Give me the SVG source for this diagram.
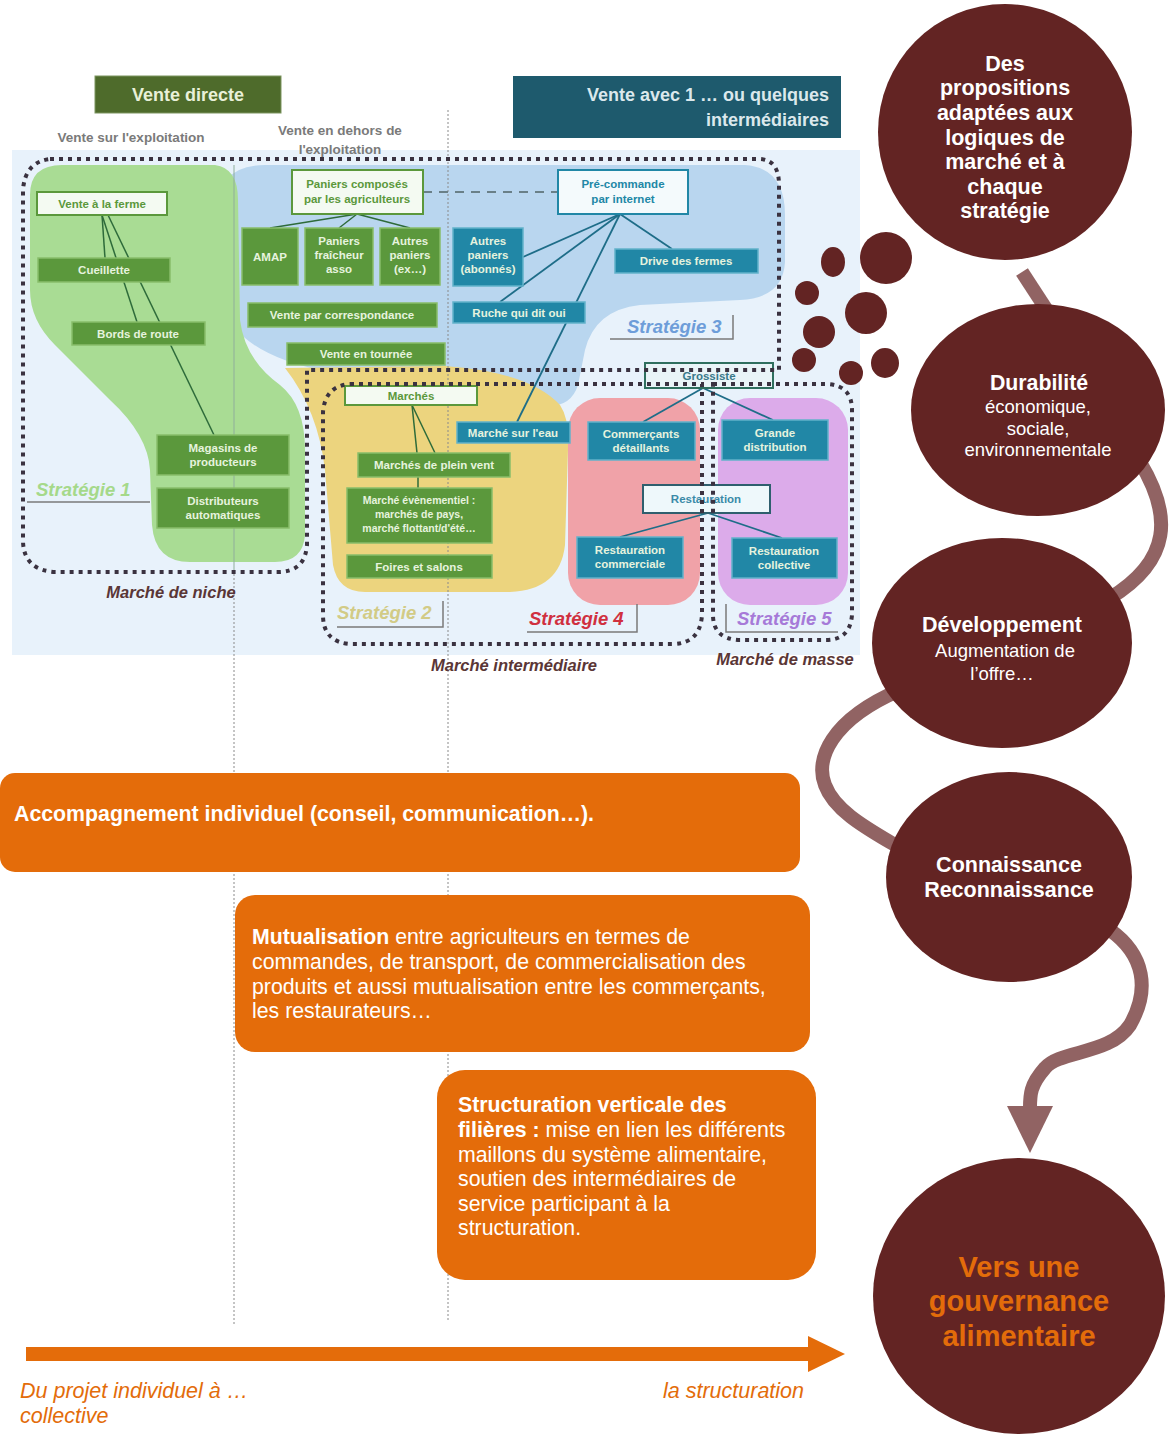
<svg xmlns="http://www.w3.org/2000/svg" width="1172" height="1438" viewBox="0 0 1172 1438">
<defs>
<style>
text{font-family:"Liberation Sans",Arial,sans-serif}
.gb{fill:#5b983c;stroke:#88bd6a;stroke-width:1.5}
.tb{fill:#2187a6;stroke:#62b2ca;stroke-width:1.5}
.wb{fill:#f4faf2;stroke:#5b983c;stroke-width:2}
.bt{fill:#e6f3de;font-size:11.5px;font-weight:bold;text-anchor:middle}
.gt{fill:#5b983c;font-size:11.5px;font-weight:bold;text-anchor:middle}
.dot{fill:none;stroke:#3a3240;stroke-width:4;stroke-dasharray:4 5}
.ln{stroke:#2e6b3a;stroke-width:1.5;fill:none}
.tl{stroke:#1e6d88;stroke-width:1.8;fill:none}
.br{stroke:#7a7a7a;stroke-width:1.5;fill:none}
.vline{stroke:#8a8a8a;stroke-width:1;stroke-dasharray:2 2}
.strat{font-size:18.5px;font-weight:bold;font-style:italic}
.mk{font-size:16.5px;font-weight:bold;font-style:italic;fill:#5a3636;text-anchor:middle}
.sub{font-size:13.5px;font-weight:bold;fill:#7a7a7a;text-anchor:middle}
.ct{fill:#fff;text-anchor:middle}
.ob{fill:#e46c0a}
.owt{fill:#fff;font-size:21.3px}
.wave{fill:none;stroke:#916363;stroke-width:14}
.mar{fill:#632423}
</style>
</defs>
<rect x="0" y="0" width="1172" height="1438" fill="#fff"/>

<!-- upper market diagram -->
<g id="market-diagram">
  <rect x="12" y="150" width="848" height="505" fill="#e8f2fb"/>
  <path d="M265,165 L745,165 Q785,168 785,215 L785,262 Q783,298 740,300 L640,305 Q595,310 585,350 L578,385 Q570,410 540,405 L330,372 Q235,355 220,300 L216,215 Q216,165 265,165 Z" fill="#b9d6ef"/>
  <path d="M30,195 Q30,165 62,165 L215,165 Q238,168 238,200 L240,320 Q245,360 280,385 Q305,405 305,450 L305,535 Q303,562 275,562 L190,562 Q155,562 152,525 L150,470 Q148,435 110,400 L55,345 Q30,320 30,290 Z" fill="#a9dc94"/>
  <path d="M285,368 L445,366 Q530,372 560,405 Q570,420 568,450 L565,545 Q560,590 510,592 L365,592 Q338,592 333,565 L325,470 Q318,410 285,368 Z" fill="#ecd47e"/>
  <rect x="568" y="398" width="132" height="207" rx="32" fill="#f0a2a8"/>
  <rect x="718" y="398" width="130" height="207" rx="32" fill="#dcabea"/>
  <line x1="234" y1="165" x2="234" y2="570" stroke="#8fae9a" stroke-width="1"/>
</g>

<g id="vertical-guides">
  <line class="vline" x1="234" y1="570" x2="234" y2="1325"/>
  <line class="vline" x1="448" y1="110" x2="448" y2="1322"/>
</g>

<g id="headers">
  <g id="vente-directe">
    <rect x="95" y="76" width="186" height="37" fill="#4e6b2b" stroke="#7d9560" stroke-width="1"/>
    <text x="188" y="101" font-size="18" font-weight="bold" fill="#e8f0d8" text-anchor="middle">Vente directe</text>
  </g>
  <g id="vente-intermediaires">
    <rect x="513" y="76" width="328" height="62" fill="#1e5a6d"/>
    <text x="829" y="101" font-size="18" font-weight="bold" fill="#dbe8ec" text-anchor="end">Vente avec 1 … ou quelques</text>
    <text x="829" y="126" font-size="18" font-weight="bold" fill="#dbe8ec" text-anchor="end">intermédiaires</text>
  </g>
  <text class="sub" x="131" y="142">Vente sur l'exploitation</text>
  <text class="sub" x="340" y="135">Vente en dehors de</text>
  <text class="sub" x="340" y="154">l'exploitation</text>
</g>

<g id="diagram-connectors">
  <line class="ln" x1="102" y1="215" x2="105" y2="258"/>
  <line class="ln" x1="102" y1="215" x2="137" y2="322"/>
  <line class="ln" x1="108" y1="215" x2="214" y2="435"/>
  <line class="ln" x1="357" y1="214" x2="270" y2="228"/>
  <line class="ln" x1="357" y1="214" x2="339" y2="228"/>
  <line class="ln" x1="357" y1="214" x2="410" y2="228"/>
  <line x1="423" y1="192" x2="558" y2="192" stroke="#6a8088" stroke-width="2" stroke-dasharray="9 7"/>
  <line class="tl" x1="620" y1="214" x2="523" y2="257"/>
  <line class="tl" x1="620" y1="214" x2="500" y2="302"/>
  <line class="tl" x1="620" y1="214" x2="517" y2="422"/>
  <line class="tl" x1="620" y1="214" x2="672" y2="249"/>
  <line class="ln" x1="412" y1="405" x2="417" y2="453"/>
  <line class="ln" x1="412" y1="405" x2="435" y2="453"/>
  <line class="ln" x1="418" y1="477" x2="418" y2="488"/>
  <line class="tl" x1="703" y1="388" x2="643" y2="422"/>
  <line class="tl" x1="703" y1="388" x2="773" y2="420"/>
  <line class="tl" x1="708" y1="513" x2="620" y2="537"/>
  <line class="tl" x1="708" y1="513" x2="782" y2="538"/>
</g>

<g id="n-vente-ferme"><rect class="wb" x="37" y="192" width="130" height="23"/><text class="gt" x="102" y="208">Vente à la ferme</text></g>
<g id="n-cueillette"><rect class="gb" x="38" y="258" width="132" height="24"/><text class="bt" x="104" y="274">Cueillette</text></g>
<g id="n-bords-route"><rect class="gb" x="72" y="322" width="133" height="23"/><text class="bt" x="138" y="338">Bords de route</text></g>
<g id="n-magasins"><rect class="gb" x="157" y="435" width="132" height="40"/><text class="bt" x="223" y="452">Magasins de</text><text class="bt" x="223" y="466">producteurs</text></g>
<g id="n-distributeurs"><rect class="gb" x="157" y="488" width="132" height="40"/><text class="bt" x="223" y="505">Distributeurs</text><text class="bt" x="223" y="519">automatiques</text></g>
<g id="n-paniers-composes"><rect class="wb" x="292" y="170" width="131" height="44"/><text class="gt" x="357" y="188">Paniers composés</text><text class="gt" x="357" y="203">par les agriculteurs</text></g>
<g id="n-amap"><rect class="gb" x="242" y="228" width="56" height="57"/><text class="bt" x="270" y="261">AMAP</text></g>
<g id="n-paniers-fraicheur"><rect class="gb" x="305" y="228" width="68" height="57"/><text class="bt" x="339" y="245">Paniers</text><text class="bt" x="339" y="259">fraîcheur</text><text class="bt" x="339" y="273">asso</text></g>
<g id="n-autres-paniers"><rect class="gb" x="380" y="228" width="60" height="57"/><text class="bt" x="410" y="245">Autres</text><text class="bt" x="410" y="259">paniers</text><text class="bt" x="410" y="273">(ex…)</text></g>
<g id="n-vente-correspondance"><rect class="gb" x="248" y="303" width="189" height="24"/><text class="bt" x="342" y="319">Vente par correspondance</text></g>
<g id="n-vente-tournee"><rect class="gb" x="287" y="343" width="158" height="22"/><text class="bt" x="366" y="358">Vente en tournée</text></g>
<g id="n-precommande"><rect fill="#f4fafc" stroke="#2187a6" stroke-width="2" x="558" y="170" width="130" height="44"/><text class="gt" style="fill:#2187a6" x="623" y="188">Pré-commande</text><text class="gt" style="fill:#2187a6" x="623" y="203">par internet</text></g>
<g id="n-autres-paniers-2"><rect class="tb" x="453" y="228" width="70" height="58"/><text class="bt" x="488" y="245">Autres</text><text class="bt" x="488" y="259">paniers</text><text class="bt" x="488" y="273">(abonnés)</text></g>
<g id="n-drive"><rect class="tb" x="615" y="249" width="143" height="24"/><text class="bt" x="686" y="265">Drive des fermes</text></g>
<g id="n-ruche"><rect class="tb" x="453" y="302" width="132" height="21"/><text class="bt" x="519" y="317">Ruche qui dit oui</text></g>
<g id="n-marches"><rect class="wb" x="345" y="386" width="132" height="19"/><text class="gt" x="411" y="400">Marchés</text></g>
<g id="n-marche-eau"><rect class="tb" x="457" y="422" width="113" height="21"/><text class="bt" x="513" y="437">Marché sur l'eau</text></g>
<g id="n-plein-vent"><rect class="gb" x="358" y="453" width="152" height="24"/><text class="bt" x="434" y="469">Marchés de plein vent</text></g>
<g id="n-evenementiels"><rect class="gb" x="347" y="488" width="145" height="55"/><text class="bt" x="419" y="504" style="font-size:10.5px">Marché évènementiel :</text><text class="bt" x="419" y="518" style="font-size:10.5px">marchés de pays,</text><text class="bt" x="419" y="532" style="font-size:10.5px">marché flottant/d'été…</text></g>
<g id="n-foires"><rect class="gb" x="347" y="555" width="145" height="23"/><text class="bt" x="419" y="571">Foires et salons</text></g>
<g id="n-grossiste"><rect fill="#e9f4f7" stroke="#2f6f5e" stroke-width="2" x="645" y="363" width="128" height="25"/><text class="gt" style="fill:#3a7a8a" x="709" y="380">Grossiste</text></g>
<g id="n-commercants"><rect class="tb" x="588" y="422" width="107" height="38"/><text class="bt" x="641" y="438">Commerçants</text><text class="bt" x="641" y="452">détaillants</text></g>
<g id="n-grande-distribution"><rect class="tb" x="722" y="420" width="106" height="40"/><text class="bt" x="775" y="437">Grande</text><text class="bt" x="775" y="451">distribution</text></g>
<g id="n-restauration"><rect fill="#eef8fb" stroke="#2f5f6e" stroke-width="2" x="643" y="485" width="127" height="28"/><text class="gt" style="fill:#3a8aa8" x="706" y="503">Restauration</text></g>
<g id="n-resto-commerciale"><rect class="tb" x="577" y="537" width="106" height="41"/><text class="bt" x="630" y="554">Restauration</text><text class="bt" x="630" y="568">commerciale</text></g>
<g id="n-resto-collective"><rect class="tb" x="732" y="538" width="105" height="40"/><text class="bt" x="784" y="555">Restauration</text><text class="bt" x="784" y="569">collective</text></g>

<g id="market-borders">
  <path class="dot" d="M50,159 L760,159 Q779,160 779,185 L779,370 L307,370 L307,545 Q305,572 278,572 L55,572 Q23,570 23,540 L23,190 Q25,162 50,159"/>
  <path class="dot" d="M350,384 L702,384 L702,615 Q700,644 672,644 L350,644 Q323,642 323,615 L323,412 Q325,386 350,384"/>
  <path class="dot" d="M713,384 L828,384 Q852,386 852,410 L852,615 Q850,640 826,640 L738,640 Q713,638 713,615 Z"/>
</g>

<g id="strategies">
  <text class="strat" x="36" y="496" fill="#a5d98a">Stratégie 1</text>
  <line class="br" x1="27" y1="502" x2="150" y2="502"/>
  <text class="strat" x="337" y="619" fill="#d2cb86">Stratégie 2</text>
  <path class="br" d="M337,627 L443,627 L443,601"/>
  <text class="strat" x="627" y="333" fill="#6d9dd9">Stratégie 3</text>
  <path class="br" d="M610,339 L733,339 L733,315"/>
  <text class="strat" x="529" y="625" fill="#d0303f">Stratégie 4</text>
  <path class="br" d="M527,632 L637,632 L637,604"/>
  <text class="strat" x="737" y="625" fill="#a67ad8">Stratégie 5</text>
  <path class="br" d="M726,604 L726,632 L838,632"/>
  <text class="mk" x="171" y="598">Marché de niche</text>
  <text class="mk" x="514" y="671">Marché intermédiaire</text>
  <text class="mk" x="785" y="665">Marché de masse</text>
</g>

<g id="connectors">
  <path class="wave" d="M1022,272 L1050,315"/>
  <path class="wave" d="M1140,462 C1172,515 1172,560 1110,598"/>
  <path class="wave" d="M900,690 C830,720 815,760 825,785 C835,812 870,830 900,848"/>
  <path class="wave" d="M1110,930 C1145,955 1150,990 1130,1025 C1110,1055 1060,1050 1045,1068 C1030,1085 1030,1095 1030,1108"/>
  <polygon points="1007,1106 1053,1106 1030,1153" fill="#916363"/>
</g>

<g id="bubbles" class="mar">
  <ellipse cx="833" cy="262" rx="12" ry="15"/>
  <circle cx="886" cy="258" r="26"/>
  <circle cx="807" cy="293" r="12"/>
  <circle cx="866" cy="313" r="21"/>
  <circle cx="819" cy="332" r="16"/>
  <circle cx="804" cy="360" r="12"/>
  <circle cx="851" cy="373" r="12"/>
  <ellipse cx="885" cy="363" rx="14" ry="15"/>
</g>

<g id="c-propositions">
  <ellipse class="mar" cx="1005" cy="132" rx="127" ry="128"/>
  <g class="ct" font-size="21.5" font-weight="bold">
    <text x="1005" y="71">Des</text>
    <text x="1005" y="95">propositions</text>
    <text x="1005" y="120">adaptées aux</text>
    <text x="1005" y="145">logiques de</text>
    <text x="1005" y="169">marché et à</text>
    <text x="1005" y="194">chaque</text>
    <text x="1005" y="218">stratégie</text>
  </g>
</g>
<g id="c-durabilite">
  <ellipse class="mar" cx="1038" cy="410" rx="127" ry="106"/>
  <text class="ct" x="1039" y="390" font-size="21.3" font-weight="bold">Durabilité</text>
  <text class="ct" x="1038" y="413" font-size="18.5">économique,</text>
  <text class="ct" x="1038" y="435" font-size="18.5">sociale,</text>
  <text class="ct" x="1038" y="456" font-size="18.5">environnementale</text>
</g>
<g id="c-developpement">
  <ellipse class="mar" cx="1002" cy="643" rx="130" ry="105"/>
  <text class="ct" x="1002" y="632" font-size="21.5" font-weight="bold">Développement</text>
  <text class="ct" x="1005" y="657" font-size="18.5">Augmentation de</text>
  <text class="ct" x="1002" y="680" font-size="18.5">l’offre…</text>
</g>
<g id="c-connaissance">
  <ellipse class="mar" cx="1009" cy="877" rx="123" ry="105"/>
  <text class="ct" x="1009" y="872" font-size="21.5" font-weight="bold">Connaissance</text>
  <text class="ct" x="1009" y="897" font-size="21.5" font-weight="bold">Reconnaissance</text>
</g>
<g id="c-gouvernance">
  <ellipse class="mar" cx="1019" cy="1296" rx="146" ry="138"/>
  <g fill="#e36c0a" font-size="29" font-weight="bold" text-anchor="middle">
    <text x="1019" y="1277">Vers une</text>
    <text x="1019" y="1311">gouvernance</text>
    <text x="1019" y="1346">alimentaire</text>
  </g>
</g>

<g id="b-accompagnement">
  <rect class="ob" x="0" y="773" width="800" height="99" rx="15"/>
  <text class="owt" x="14" y="821" font-weight="bold" textLength="580" lengthAdjust="spacingAndGlyphs">Accompagnement individuel (conseil, communication…).</text>
</g>
<g id="b-mutualisation">
  <rect class="ob" x="235" y="895" width="575" height="157" rx="20"/>
  <text class="owt" x="252" y="944"><tspan font-weight="bold">Mutualisation</tspan> entre agriculteurs en termes de</text>
  <text class="owt" x="252" y="969">commandes, de transport, de commercialisation des</text>
  <text class="owt" x="252" y="994">produits et aussi mutualisation entre les commerçants,</text>
  <text class="owt" x="252" y="1018">les restaurateurs…</text>
</g>
<g id="b-structuration">
  <rect class="ob" x="437" y="1070" width="379" height="210" rx="28"/>
  <text class="owt" x="458" y="1112" font-weight="bold">Structuration verticale des</text>
  <text class="owt" x="458" y="1137"><tspan font-weight="bold">filières :</tspan> mise en lien les différents</text>
  <text class="owt" x="458" y="1162">maillons du système alimentaire,</text>
  <text class="owt" x="458" y="1186">soutien des intermédiaires de</text>
  <text class="owt" x="458" y="1211">service participant à la</text>
  <text class="owt" x="458" y="1235">structuration.</text>
</g>

<g id="progress-arrow">
  <rect x="26" y="1347" width="784" height="14" fill="#e46c0a"/>
  <polygon points="808,1336 845,1354 808,1372" fill="#e46c0a"/>
  <g fill="#e36c0a" font-size="21.5" font-style="italic">
    <text x="20" y="1398">Du projet individuel à …</text>
    <text x="20" y="1423">collective</text>
    <text x="663" y="1398">la structuration</text>
  </g>
</g>
</svg>
